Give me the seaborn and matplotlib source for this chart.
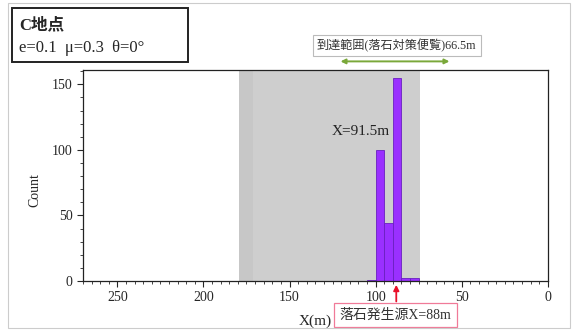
import matplotlib
matplotlib.use('Agg')
import matplotlib.pyplot as plt
import seaborn as sns
import numpy as np
import pandas as pd
from matplotlib.ticker import MultipleLocator
from matplotlib.patches import Rectangle

sns.set_style('ticks')
plt.rcParams['font.family'] = ['Liberation Serif', 'Noto Sans CJK JP']

# histogram of stop positions (bin width 5 m)
bin_centers = [102.5, 97.5, 92.5, 87.5, 82.5, 77.5]
counts = [1, 100, 44, 155, 2, 2]
bin_edges = [105, 100, 95, 90, 85, 80, 75]

# reference ranges
reach_range = (179.5, 74.5)       # grey band
handbook_arrow = (122.0, 55.5)    # 66.5 m arrow
source_x = 88.0
mean_x = 91.5

df = pd.DataFrame({'x': bin_centers, 'count': counts})

fig = plt.figure(figsize=(5.76, 3.31), dpi=100)
ax = fig.add_axes([0.144, 0.151, 0.807, 0.638])

ax.axvspan(reach_range[0], reach_range[1], color='#c6c6c6', alpha=0.85, lw=0, zorder=0)
ax.axvspan(reach_range[0], reach_range[0] - 8, color='#b8b8b8', alpha=0.3, lw=0, zorder=0)

sns.histplot(data=df, x='x', weights='count', bins=sorted(bin_edges), ax=ax,
             color='#9a30ff', edgecolor='#6a20c0', linewidth=0.6, alpha=1.0, zorder=2)

ax.set_xlim(270, 0)
ax.set_ylim(0, 161)
ax.xaxis.set_major_locator(MultipleLocator(50))
ax.xaxis.set_minor_locator(MultipleLocator(5))
ax.yaxis.set_major_locator(MultipleLocator(50))
ax.yaxis.set_minor_locator(MultipleLocator(10))
ax.tick_params(axis='both', which='major', direction='out', length=4, width=0.8, labelsize=10)
ax.tick_params(axis='both', which='minor', direction='out', length=2, width=0.6)
for s in ax.spines.values():
    s.set_visible(True)
    s.set_linewidth(0.9)
    s.set_color('#222222')

ax.set_xlabel('X(m)', fontsize=11)
ax.xaxis.set_label_coords(0.5, -0.16)
ax.set_ylabel('Count', fontsize=10)
ax.yaxis.set_label_coords(-0.09, 0.43)

ax.text(mean_x + 17, 114, f'X={mean_x}m', fontsize=11, ha='center', va='center', color='#222222')

# handbook reach arrow and label
ax.annotate('', xy=(handbook_arrow[1], 1.04), xytext=(handbook_arrow[0], 1.04),
            xycoords=('data', 'axes fraction'), textcoords=('data', 'axes fraction'),
            arrowprops=dict(arrowstyle='<|-|>', color='#7aa83a', lw=1.4,
                            mutation_scale=7), annotation_clip=False)
ax.text((handbook_arrow[0] + handbook_arrow[1]) / 2 - 1, 1.115,
        '到達範囲(落石対策便覧)66.5m', transform=ax.get_xaxis_transform(),
        ha='center', va='center', fontsize=8.7, color='#333333',
        bbox=dict(boxstyle='square,pad=0.35', fc='white', ec='#bbbbbb', lw=0.8))

# rockfall source arrow and label
ax.annotate('', xy=(source_x, -0.005), xytext=(source_x, -0.11),
            xycoords=('data', 'axes fraction'), textcoords=('data', 'axes fraction'),
            arrowprops=dict(arrowstyle='-|>', color='#e8102a', lw=1.3,
                            mutation_scale=8), annotation_clip=False)
ax.text(source_x + 0.5, -0.16, '落石発生源X=88m', transform=ax.get_xaxis_transform(),
        ha='center', va='center', fontsize=10, color='#333333',
        bbox=dict(boxstyle='square,pad=0.4', fc='white', ec='#f07a98', lw=0.9))

# outer frame and condition box
fig.patches.append(Rectangle((0.014, 0.01), 0.975, 0.98, transform=fig.transFigure,
                             fill=False, ec='#cccccc', lw=0.8))
fig.patches.append(Rectangle((0.021, 0.813), 0.306, 0.162, transform=fig.transFigure,
                             fc='white', ec='#222222', lw=1.4))
fig.text(0.033, 0.925, 'C地点', fontsize=12, fontweight='bold', va='center', ha='left')
fig.text(0.033, 0.855, 'e=0.1  μ=0.3  θ=0°', fontsize=12, va='center', ha='left')

fig.savefig('out.png', dpi=100, facecolor='white')
